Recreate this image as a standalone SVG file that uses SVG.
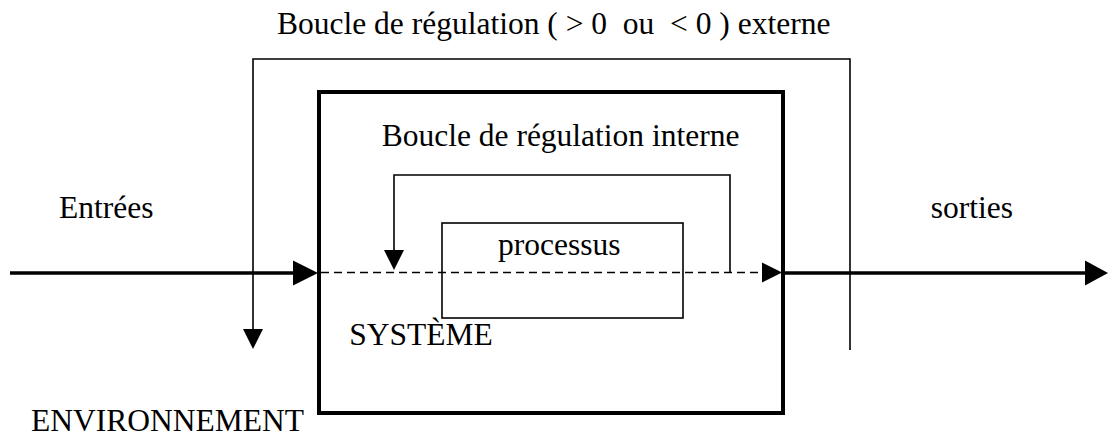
<svg xmlns="http://www.w3.org/2000/svg" width="1109" height="437" viewBox="0 0 1109 437">
<style>
text{font-family:"Liberation Serif","Times New Roman",serif;font-size:31.5px;fill:#000;white-space:pre}
.thin{fill:none;stroke:#000;stroke-width:1.6}
.thick{fill:none;stroke:#000;stroke-width:4}
.main{fill:none;stroke:#000;stroke-width:3.5}
.dash{fill:none;stroke:#000;stroke-width:1.6;stroke-dasharray:8 5}
.head{fill:#000;stroke:none}
</style>
<rect width="1109" height="437" fill="#fff"/>
<g id="systeme">
<rect class="thick" x="319" y="92" width="464" height="321"/>
<text x="349.3" y="345">SYSTÈME</text>
</g>
<g id="processus">
<rect class="thin" x="442" y="223" width="241" height="95"/>
<text x="498" y="255">processus</text>
</g>
<g id="labels">
<text x="553.7" y="34" text-anchor="middle" xml:space="preserve">Boucle de régulation ( &gt; 0  ou  &lt; 0 ) externe</text>
<text x="381.7" y="146">Boucle de régulation interne</text>
<text x="59" y="218">Entrées</text>
<text x="930.7" y="218">sorties</text>
<text x="304" y="431" text-anchor="end">ENVIRONNEMENT</text>
</g>
<g id="connectors">
<path class="thin" d="M253,330 V59 H850 V350"/>
<polygon class="head" points="243,329 263,329 253,349"/>
<path class="thin" d="M394,251 V175 H730 V272"/>
<polygon class="head" points="384,250 404,250 394,270"/>
<path class="main" d="M10,273 H295"/>
<polygon class="head" points="293,260.5 318,273 293,285.5"/>
<path class="dash" d="M321,272.5 H764"/>
<polygon class="head" points="762,262.5 782,272.5 762,282.5"/>
<path class="main" d="M785,273 H1088"/>
<polygon class="head" points="1085,260.5 1108,273 1085,285.5"/>
</g>
</svg>
